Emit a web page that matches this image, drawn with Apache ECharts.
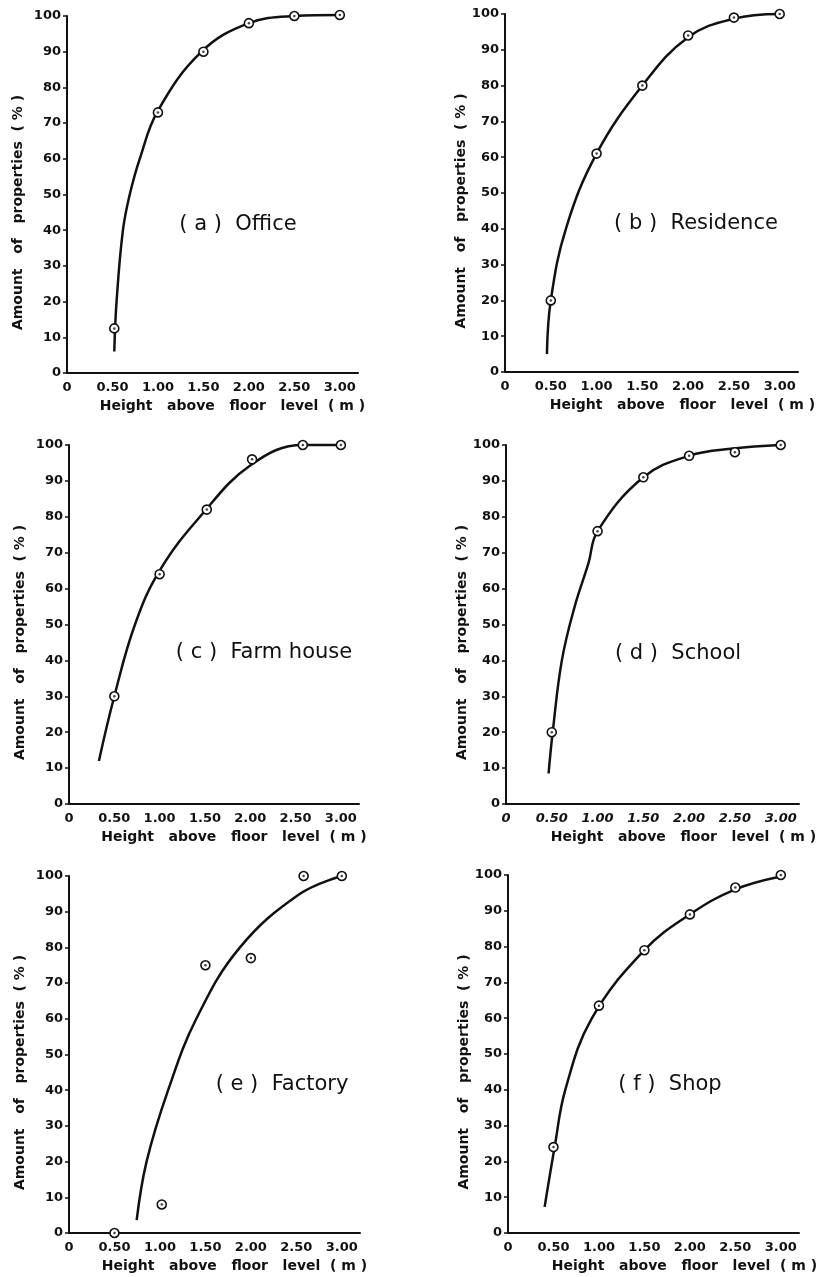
<!DOCTYPE html>
<html>
<head>
<meta charset="utf-8">
<script src="https://cdn.jsdelivr.net/npm/echarts@6/dist/echarts.min.js"></script>
<style>
  html, body { margin: 0; background: #fff; }
  #chart { width: 824px; height: 1277px; }
</style>
</head>
<body>
<div id="chart"></div>
<script>
// tick labels
const xTickLabels = ['0', '0.50', '1.00', '1.50', '2.00', '2.50', '3.00']
const yTickLabels = ['0', '10', '20', '30', '40', '50', '60', '70', '80', '90', '100']

const panelTitles = ['( a )  Office', '( b )  Residence', '( c )  Farm house', '( d )  School', '( e )  Factory', '( f )  Shop']

// measured points (height m, % of properties)
const officeX = [0.52, 1.0, 1.5, 2.0, 2.5, 3.0]
const officeY = [12.5, 73, 90, 98, 100, 100.3]
const residenceX = [0.5, 1.0, 1.5, 2.0, 2.5, 3.0]
const residenceY = [20, 61, 80, 94, 99, 100]
const farmX = [0.5, 1.0, 1.52, 2.02, 2.58, 3.0]
const farmY = [30, 64, 82, 96, 100, 100]
const schoolX = [0.5, 1.0, 1.5, 2.0, 2.5, 3.0]
const schoolY = [20, 76, 91, 97, 98, 100]
const factoryX = [0.5, 1.02, 1.5, 2.0, 2.58, 3.0]
const factoryY = [0, 8, 75, 77, 100, 100]
const shopX = [0.5, 1.0, 1.5, 2.0, 2.5, 3.0]
const shopY = [24, 63.5, 79, 89, 96.5, 100]

// fitted curves
const officeCurveX = [0.52, 0.545, 0.615, 0.69, 0.8, 1.0, 1.48, 2.0, 2.5, 3.0]
const officeCurveY = [6, 20, 40, 50, 60, 73.5, 90, 98, 100, 100.3]
const residenceCurveX = [0.458, 0.5, 0.665, 1.0, 1.5, 2.0, 2.5, 3.0]
const residenceCurveY = [5, 20, 40, 61, 80, 93.5, 98.7, 100]
const farmCurveX = [0.33, 0.5, 0.728, 1.0, 1.445, 2.01, 2.58, 3.0]
const farmCurveY = [12, 30, 50, 65, 80, 94.5, 100, 100]
const schoolCurveX = [0.465, 0.51, 0.61, 0.75, 0.9, 1.0, 1.5, 2.0, 2.48, 3.0]
const schoolCurveY = [8.5, 20, 40, 55, 67, 76, 91, 97, 99, 100]
const factoryCurveX = [0.744, 0.853, 1.09, 1.4, 1.88, 2.54, 3.0]
const factoryCurveY = [3.6, 20, 40, 60, 80, 95, 100]
const shopCurveX = [0.403, 0.513, 0.63, 0.923, 1.5, 2.0, 2.5, 3.0]
const shopCurveY = [7.3, 24, 40, 60, 79, 89, 96, 99.6]

const panels = [
  { px: officeX, py: officeY, cx: officeCurveX, cy: officeCurveY },
  { px: residenceX, py: residenceY, cx: residenceCurveX, cy: residenceCurveY },
  { px: farmX, py: farmY, cx: farmCurveX, cy: farmCurveY },
  { px: schoolX, py: schoolY, cx: schoolCurveX, cy: schoolCurveY },
  { px: factoryX, py: factoryY, cx: factoryCurveX, cy: factoryCurveY },
  { px: shopX, py: shopY, cx: shopCurveX, cy: shopCurveY }
]

// grid boxes in pixels
const gridBoxes = [
  { left: 67, top: 16, width: 291, height: 357 },
  { left: 505, top: 14, width: 293, height: 358 },
  { left: 69, top: 445, width: 290, height: 359 },
  { left: 506, top: 445, width: 293, height: 359 },
  { left: 69, top: 876, width: 291, height: 357 },
  { left: 508, top: 875, width: 291, height: 358 }
]
const titlePos = [[238, 225], [696, 224], [264, 653], [678, 654], [282, 1085], [670, 1085]]

const ink = '#111'
const font = 'DejaVu Sans'

const zip = (xs, ys) => xs.map((x, i) => [x, ys[i]])

const option = {
  backgroundColor: '#fff',
  animation: false,
  grid: gridBoxes.map((b) => ({ ...b, containLabel: false })),
  xAxis: panels.map((p, i) => ({
    gridIndex: i,
    type: 'value',
    min: 0,
    max: 3.2,
    interval: 0.5,
    axisLine: { lineStyle: { color: ink, width: 2 } },
    axisTick: { show: false },
    splitLine: { show: false },
    axisLabel: {
      margin: 8,
      color: ink,
      fontSize: 13,
      fontWeight: 'bold',
      fontFamily: font,
      fontStyle: i === 3 ? 'italic' : 'normal',
      formatter: (v) => {
        const k = Math.round(v / 0.5)
        return Math.abs(v - k * 0.5) < 1e-6 && k < xTickLabels.length ? xTickLabels[k] : ''
      }
    },
    name: 'Height   above   floor   level  ( m )',
    nameLocation: 'middle',
    nameGap: 26,
    nameTextStyle: {
      color: ink,
      fontSize: 14,
      fontWeight: 'bold',
      fontFamily: font,
      padding: [0, 0, 0, i % 2 ? 62 : 40]
    }
  })),
  yAxis: panels.map((p, i) => ({
    gridIndex: i,
    type: 'value',
    min: 0,
    max: 100,
    interval: 10,
    axisLine: { show: true, lineStyle: { color: ink, width: 2 } },
    axisTick: { show: true, length: 4, lineStyle: { color: ink, width: 1.5 } },
    splitLine: { show: false },
    axisLabel: {
      margin: 6,
      color: ink,
      fontSize: 13,
      fontWeight: 'bold',
      fontFamily: font,
      formatter: (v) => yTickLabels[Math.round(v / 10)] ?? ''
    },
    name: 'Amount   of   properties  ( % )',
    nameLocation: 'middle',
    nameGap: i % 2 ? 34 : 42,
    nameTextStyle: {
      color: ink,
      fontSize: 14,
      fontWeight: 'bold',
      fontFamily: font,
      padding: [0, 36, 0, 0]
    }
  })),
  graphic: panelTitles.map((t, i) => ({
    type: 'text',
    x: titlePos[i][0],
    y: titlePos[i][1],
    style: {
      text: t,
      fill: ink,
      font: '21px "DejaVu Sans"',
      textAlign: 'center',
      textVerticalAlign: 'middle'
    }
  })),
  series: panels.flatMap((p, i) => [
    {
      type: 'line',
      xAxisIndex: i,
      yAxisIndex: i,
      data: zip(p.cx, p.cy),
      smooth: 0.4,
      showSymbol: false,
      clip: false,
      lineStyle: { color: ink, width: 2.5 },
      z: 2
    },
    {
      type: 'scatter',
      xAxisIndex: i,
      yAxisIndex: i,
      data: zip(p.px, p.py),
      symbol: 'circle',
      symbolSize: 9,
      clip: false,
      itemStyle: { color: '#fff', borderColor: ink, borderWidth: 1.6, opacity: 1 },
      z: 3
    },
    {
      type: 'scatter',
      xAxisIndex: i,
      yAxisIndex: i,
      data: zip(p.px, p.py),
      symbol: 'circle',
      symbolSize: 2.5,
      clip: false,
      itemStyle: { color: ink },
      z: 4
    }
  ])
}

const chart = echarts.init(document.getElementById('chart'))
chart.setOption(option)
</script>
</body>
</html>
